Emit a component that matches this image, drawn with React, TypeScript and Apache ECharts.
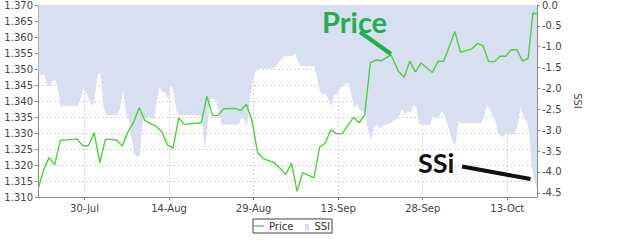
import React, { useEffect, useRef } from "react";
import * as echarts from "echarts";

// ---- data ----
const priceDates = [
  "2013-07-21 21:00", "2013-07-22 17:00", "2013-07-23 17:00", "2013-07-24 17:00", "2013-07-25 17:00",
  "2013-07-28 17:00", "2013-07-29 17:00", "2013-07-30 17:00", "2013-07-31 17:00", "2013-08-01 17:00",
  "2013-08-02 17:00", "2013-08-04 17:00", "2013-08-05 17:00", "2013-08-06 17:00", "2013-08-07 17:00",
  "2013-08-08 17:00", "2013-08-09 17:00", "2013-08-11 17:00", "2013-08-12 17:00", "2013-08-13 17:00",
  "2013-08-14 17:00", "2013-08-15 17:00", "2013-08-16 17:00", "2013-08-19 17:00", "2013-08-20 17:00",
  "2013-08-21 17:00", "2013-08-22 17:00", "2013-08-23 17:00", "2013-08-25 17:00", "2013-08-26 17:00",
  "2013-08-27 17:00", "2013-08-28 17:00", "2013-08-29 17:00", "2013-08-30 17:00", "2013-09-01 17:00",
  "2013-09-03 17:00", "2013-09-04 17:00", "2013-09-05 17:00", "2013-09-06 17:00", "2013-09-08 17:00",
  "2013-09-09 17:00", "2013-09-10 17:00", "2013-09-11 17:00", "2013-09-12 17:00", "2013-09-13 17:00",
  "2013-09-15 17:00", "2013-09-16 17:00", "2013-09-17 17:00", "2013-09-18 17:00", "2013-09-19 17:00",
  "2013-09-20 17:00", "2013-09-22 09:00", "2013-09-23 17:00", "2013-09-24 17:00", "2013-09-25 17:00",
  "2013-09-26 17:00", "2013-09-27 17:00", "2013-09-29 17:00", "2013-09-30 17:00", "2013-10-01 17:00",
  "2013-10-03 17:00", "2013-10-04 17:00", "2013-10-06 17:00", "2013-10-07 17:00", "2013-10-08 17:00",
  "2013-10-09 17:00", "2013-10-10 17:00", "2013-10-11 17:00", "2013-10-12 17:00", "2013-10-13 17:00",
  "2013-10-14 17:00", "2013-10-15 17:00", "2013-10-16 17:00", "2013-10-17 13:00", "2013-10-18 06:30",
];

const priceValues = [
  1.3131, 1.3183, 1.3223, 1.3201, 1.3277,
  1.3281, 1.326, 1.326, 1.3301, 1.3207,
  1.3281, 1.3278, 1.3259, 1.3303, 1.3334,
  1.3379, 1.3339, 1.3321, 1.3304, 1.3263,
  1.3253, 1.3347, 1.3327, 1.3332, 1.3415,
  1.3355, 1.3355, 1.3376, 1.3377, 1.337,
  1.339, 1.3339, 1.3238, 1.322, 1.3207,
  1.3171, 1.3206, 1.3118, 1.3176, 1.316,
  1.3256, 1.3268, 1.331, 1.3298, 1.3298,
  1.3349, 1.3332, 1.3357, 1.352, 1.3528,
  1.3526, 1.3544, 1.3492, 1.3474, 1.3524,
  1.3491, 1.3519, 1.3489, 1.3524, 1.3524,
  1.3617, 1.3552, 1.3563, 1.358, 1.3572,
  1.3523, 1.3523, 1.354, 1.354, 1.356,
  1.356, 1.3525, 1.3533, 1.3675, 1.3672,
];

// SSI sampled every 12 hours from ssiStart
const ssiStart = "2013-07-21 20:00";
const ssiStepHours = 12;
const ssiValues = [
  -1.64, -1.68, -1.66, -1.9, -1.97, -1.82, -1.8, -2.05, -2.47, -2.41,
  -2.42, -2.42, -2.42, -2.42, -2.42, -2.22, -1.99, -2.12, -2.28, -2.44,
  -2.22, -1.68, -1.62, -2.4, -2.64, -2.64, -2.64, -2.64, -2.64, -2.47,
  -2.04, -2.59, -2.73, -3.18, -3.54, -3.66, -3.59, -2.75, -2.71, -2.68,
  -2.71, -2.75, -2.3, -1.97, -2.09, -2.09, -2.28, -1.9, -2.12, -2.56,
  -2.64, -2.64, -2.64, -2.64, -2.64, -2.64, -2.64, -2.64, -2.7, -3.47,
  -2.87, -2.25, -2.23, -2.3, -2.56, -2.87, -2.87, -2.87, -2.87, -2.87,
  -2.87, -2.85, -2.71, -2.73, -2.9, -2.25, -1.83, -1.59, -1.52, -1.52,
  -1.52, -1.52, -1.52, -1.52, -1.49, -1.41, -1.31, -1.24, -1.23, -1.23,
  -1.23, -1.17, -1.35, -1.46, -1.46, -1.46, -1.46, -1.46, -1.46, -1.8,
  -2.1, -2.14, -2.14, -2.3, -2.43, -2.16, -2.12, -2.0, -1.9, -1.9,
  -1.85, -2.14, -2.48, -2.37, -2.52, -2.56, -2.59, -3.04, -3.23, -2.97,
  -2.87, -2.95, -2.91, -2.87, -2.84, -2.83, -2.78, -2.73, -2.66, -2.49,
  -2.61, -2.54, -2.58, -2.42, -2.44, -2.85, -2.87, -2.87, -2.87, -2.87,
  -2.66, -2.71, -2.68, -2.56, -2.61, -2.85, -3.06, -3.3, -3.35, -2.8,
  -2.83, -2.83, -2.83, -2.83, -2.83, -2.83, -2.83, -2.83, -2.71, -2.4,
  -2.49, -2.64, -2.75, -3.04, -3.15, -3.15, -3.04, -3.09, -3.11, -3.07,
  -2.87, -2.44, -2.66, -2.75, -2.99, -3.87, -4.23, -4.42,
];

const xTickDates = ["2013-07-30", "2013-08-14", "2013-08-29", "2013-09-13", "2013-09-28", "2013-10-13"];
const xMinDate = "2013-07-21 18:00";
const xMaxDate = "2013-10-18 06:30";
const priceMin = 1.31;
const priceMax = 1.37;
const priceStep = 0.005;
const ssiMin = -4.6;
const ssiMax = 0;
const ssiTicks = [0, -0.5, -1, -1.5, -2, -2.5, -3, -3.5, -4, -4.5];
const MONTHS = ["Jan", "Feb", "Mar", "Apr", "May", "Jun", "Jul", "Aug", "Sep", "Oct", "Nov", "Dec"];

function toTime(s: string): number {
  const [d, t = "00:00"] = s.split(" ");
  const [y, m, dd] = d.split("-").map(Number);
  const [hh, mm] = t.split(":").map(Number);
  return new Date(y, m - 1, dd, hh, mm).getTime();
}

const FONT = "DejaVu Sans";
const AXIS_GREY = "#8a8a8a";
const LABEL = "#444";
const PRICE_GREEN = "#4fcf3c";
const SSI_FILL = "#d8dff0";

export default function App() {
  const ref = useRef<HTMLDivElement>(null);

  useEffect(() => {
    if (!ref.current) return;
    const chart = echarts.init(ref.current, undefined, { renderer: "svg" });

    const priceData = priceDates.map((d, i) => [toTime(d), priceValues[i]]);
    const t0 = toTime(ssiStart);
    const ssiData = ssiValues.map((v, i) => [t0 + i * ssiStepHours * 3600 * 1000, v]);
    const xTicks = xTickDates.map(toTime);

    chart.setOption({
      animation: false,
      backgroundColor: "#fff",
      grid: { left: 38, right: 86, top: 4, bottom: 43, containLabel: false },
      legend: {
        left: 253,
        top: 219,
        padding: [2, 2, 2, 1],
        itemGap: 6,
        itemWidth: 10,
        itemHeight: 10,
        borderColor: "#444",
        borderWidth: 1,
        selectedMode: false,
        textStyle: { fontFamily: FONT, fontSize: 10, color: "#333" },
        data: [
          { name: "Price", icon: "path://M0,0M10,10M0,4.4h10v1.3h-10z", itemStyle: { color: PRICE_GREEN } },
          { name: "SSI", icon: "path://M0,0M10,10M5.5,3h4v6.5h-4z", itemStyle: { color: SSI_FILL } },
        ],
      },
      xAxis: {
        type: "value",
        min: toTime(xMinDate),
        max: toTime(xMaxDate),
        axisLine: { show: true, onZero: false, lineStyle: { color: AXIS_GREY } },
        axisTick: { show: true, length: 3, lineStyle: { color: AXIS_GREY }, customValues: xTicks },
        axisLabel: {
          customValues: xTicks,
          margin: 6,
          fontFamily: FONT,
          fontSize: 10,
          color: LABEL,
          formatter: (v: number) => {
            const d = new Date(v);
            return d.getDate() + "-" + MONTHS[d.getMonth()];
          },
        },
        splitLine: { show: true, lineStyle: { color: "#d4d4d4", type: [2, 2], width: 1 } },
      },
      yAxis: [
        {
          type: "value",
          position: "left",
          min: priceMin,
          max: priceMax,
          interval: priceStep,
          axisLine: { show: true, lineStyle: { color: AXIS_GREY } },
          axisTick: { show: true, length: 3, lineStyle: { color: AXIS_GREY } },
          axisLabel: {
            margin: 5,
            fontFamily: FONT,
            fontSize: 10,
            color: LABEL,
            formatter: (v: number) => v.toFixed(3),
          },
          splitLine: { show: true, lineStyle: { color: "#d4d4d4", type: [2, 2], width: 1 } },
        },
        {
          type: "value",
          position: "right",
          min: ssiMin,
          max: ssiMax,
          name: "SSI",
          nameLocation: "middle",
          nameGap: 24,
          nameRotate: -90,
          nameTextStyle: { fontFamily: FONT, fontSize: 10, color: LABEL },
          axisLine: { show: true, lineStyle: { color: AXIS_GREY } },
          axisTick: { show: true, length: 3, lineStyle: { color: AXIS_GREY }, customValues: ssiTicks },
          axisLabel: {
            customValues: ssiTicks,
            margin: 5,
            fontFamily: FONT,
            fontSize: 10,
            color: LABEL,
            formatter: (v: number) => v.toFixed(1),
          },
          splitLine: { show: false },
        },
      ],
      series: [
        {
          name: "SSI",
          type: "line",
          yAxisIndex: 1,
          data: ssiData,
          symbol: "none",
          showSymbol: false,
          itemStyle: { color: SSI_FILL },
          lineStyle: { width: 0, opacity: 0, color: SSI_FILL },
          areaStyle: { color: SSI_FILL, opacity: 1 },
          z: 1,
        },
        {
          name: "Price",
          type: "line",
          yAxisIndex: 0,
          data: priceData,
          symbol: "none",
          showSymbol: false,
          itemStyle: { color: PRICE_GREEN },
          lineStyle: { width: 1.4, color: PRICE_GREEN },
          z: 3,
        },
      ],
      graphic: [
        {
          type: "text",
          x: 322,
          y: 21,
          z: 10,
          style: {
            text: "Price",
            fill: "#1fb04b",
            fontFamily: "Lato",
            fontWeight: "bold",
            fontSize: 29,
            verticalAlign: "middle",
          },
        },
        {
          type: "line",
          z: 10,
          shape: { x1: 360, y1: 32, x2: 391, y2: 54 },
          style: { stroke: "#1fb04b", lineWidth: 4 },
        },
        {
          type: "text",
          x: 418,
          y: 162.5,
          z: 10,
          style: {
            text: "SSi",
            fill: "#111",
            fontFamily: "Lato",
            fontWeight: "bold",
            fontSize: 27,
            verticalAlign: "middle",
          },
        },
        {
          type: "line",
          z: 10,
          shape: { x1: 462, y1: 166.5, x2: 530.5, y2: 179 },
          style: { stroke: "#111", lineWidth: 4 },
        },
      ],
    });

    return () => chart.dispose();
  }, []);

  return (
    <div
      ref={ref}
      style={{ position: "fixed", left: 0, top: 0, width: 623, height: 240, background: "#fff" }}
    />
  );
}
